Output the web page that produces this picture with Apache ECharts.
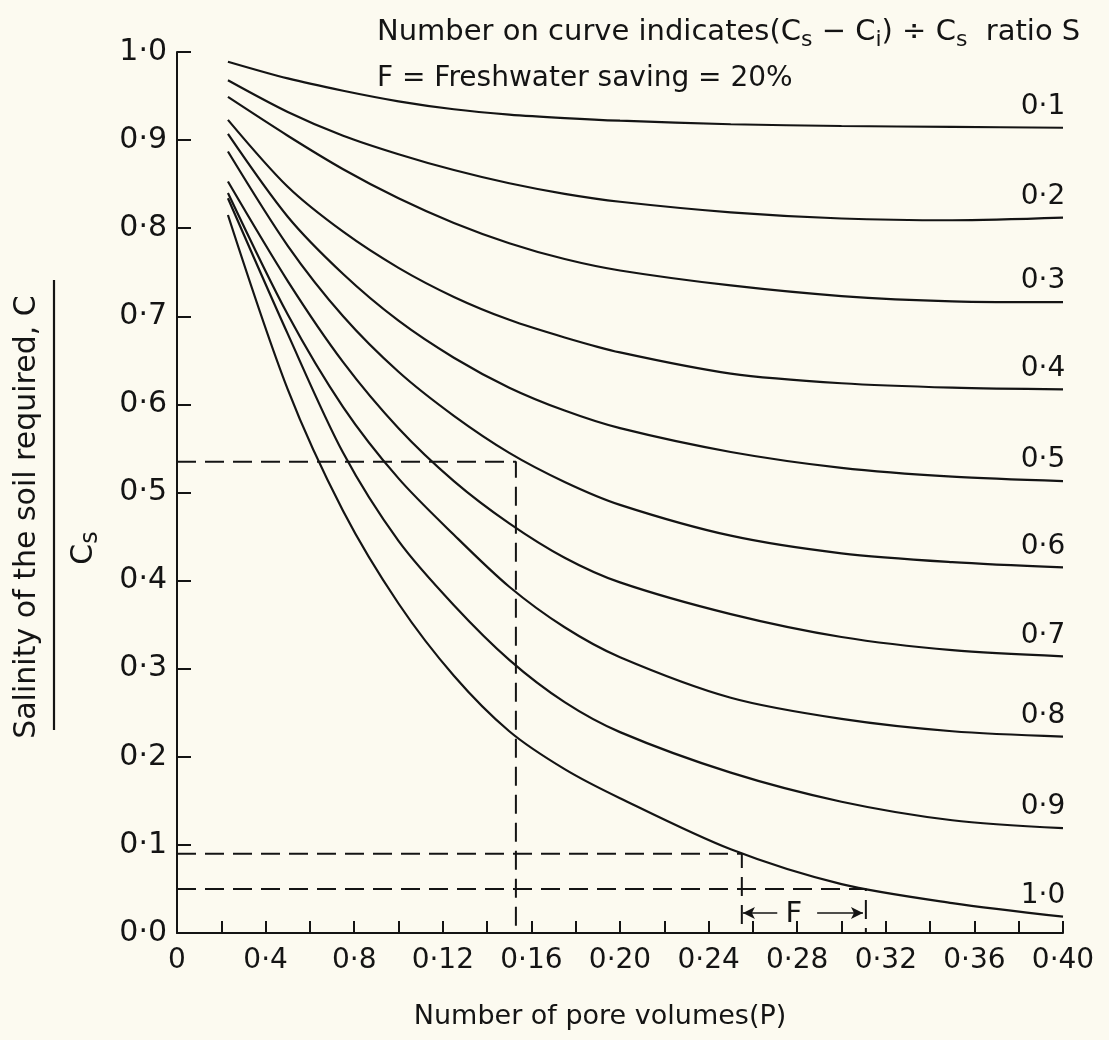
<!DOCTYPE html>
<html><head><meta charset="utf-8">
<script src="https://cdn.jsdelivr.net/npm/echarts@6/dist/echarts.min.js"></script>
<style>html,body{margin:0;padding:0;background:#fcfaf0}#c{width:1109px;height:1040px}</style>
</head><body><div id="c"></div>
<script>
// Number of pore volumes (P)
const poreVolumes = [0.023, 0.05, 0.075, 0.10, 0.125, 0.15, 0.175, 0.20, 0.25, 0.30, 0.35, 0.40];
// Curve ratio labels S
const curveRatios = ['0·1','0·2','0·3','0·4','0·5','0·6','0·7','0·8','0·9','1·0'];
// Salinity C/Cs for each curve
const s01 = [0.989, 0.970, 0.956, 0.944, 0.935, 0.929, 0.925, 0.922, 0.918, 0.916, 0.915, 0.914];
const s02 = [0.968, 0.932, 0.905, 0.884, 0.866, 0.851, 0.839, 0.830, 0.818, 0.811, 0.809, 0.812];
const s03 = [0.949, 0.905, 0.867, 0.834, 0.806, 0.783, 0.765, 0.752, 0.735, 0.723, 0.717, 0.716];
const s04 = [0.923, 0.847, 0.796, 0.755, 0.722, 0.696, 0.676, 0.659, 0.635, 0.624, 0.619, 0.617];
const s05 = [0.907, 0.813, 0.748, 0.695, 0.653, 0.619, 0.593, 0.573, 0.546, 0.528, 0.518, 0.513];
const s06 = [0.887, 0.780, 0.700, 0.637, 0.587, 0.545, 0.512, 0.486, 0.451, 0.431, 0.421, 0.415];
const s07 = [0.853, 0.740, 0.648, 0.573, 0.513, 0.465, 0.426, 0.398, 0.362, 0.336, 0.321, 0.314];
const s08 = [0.840, 0.702, 0.597, 0.516, 0.452, 0.393, 0.347, 0.313, 0.267, 0.243, 0.229, 0.223];
const s09 = [0.834, 0.680, 0.545, 0.445, 0.372, 0.310, 0.262, 0.228, 0.182, 0.149, 0.128, 0.119];
const s10 = [0.815, 0.617, 0.479, 0.374, 0.292, 0.229, 0.186, 0.153, 0.095, 0.0555, 0.034, 0.0185];
const curves = [s01, s02, s03, s04, s05, s06, s07, s08, s09, s10];

// Tick labels
const xTickLabels = ['0','0·4','0·8','0·12','0·16','0·20','0·24','0·28','0·32','0·36','0·40'];
const yTickLabels = ['0·0','0·1','0·2','0·3','0·4','0·5','0·6','0·7','0·8','0·9','1·0'];

// Dashed construction lines [P, C/Cs]
const guideA = [[0, 0.535], [0.153, 0.535], [0.153, 0]];
const guideB = [[0, 0.09], [0.255, 0.09], [0.255, 0]];
const guideC = [[0, 0.05], [0.311, 0.05], [0.311, 0]];
// Freshwater saving arrow "F"
const fArrowLeft = [[0.271, 0.0227], [0.2555, 0.0227]];
const fArrowRight = [[0.289, 0.0227], [0.3097, 0.0227]];
const fLabel = [0.2785, 0.0215];

const INK = '#141414';
const FONT = 'DejaVu Sans';
const chart = echarts.init(document.getElementById('c'), null, {renderer: 'canvas'});

const series = curves.map((vals, i) => ({
  type: 'line',
  name: curveRatios[i],
  data: poreVolumes.map((p, j) => [p, vals[j]]),
  smooth: 0.3,
  showSymbol: false,
  symbol: 'none',
  lineStyle: {color: INK, width: 2.2},
  endLabel: {
    show: true,
    formatter: curveRatios[i],
    color: INK,
    fontFamily: FONT,
    fontSize: 28,
    align: 'center',
    verticalAlign: 'middle',
    offset: [-28, -21]
  },
  silent: true,
  z: 3
}));

[guideA, guideB, guideC].forEach(g => series.push({
  type: 'line',
  data: g,
  symbol: 'none',
  lineStyle: {color: INK, width: 2, type: [19, 9]},
  silent: true,
  z: 2
}));

series.push({
  type: 'line',
  data: [],
  symbol: 'none',
  silent: true,
  markLine: {
    silent: true,
    symbol: ['none', 'arrow'],
    symbolSize: [9, 12],
    label: {show: false},
    lineStyle: {color: INK, width: 1.6, type: 'solid'},
    data: [
      [{coord: fArrowLeft[0]}, {coord: fArrowLeft[1]}],
      [{coord: fArrowRight[0]}, {coord: fArrowRight[1]}]
    ]
  },
  markPoint: {
    silent: true,
    symbol: 'circle',
    symbolSize: 0,
    itemStyle: {color: INK},
    label: {show: true, position: 'inside', formatter: 'F', color: INK, fontFamily: FONT, fontSize: 29},
    data: [{coord: fLabel}]
  }
});

chart.setOption({
  backgroundColor: '#fcfaf0',
  animation: false,
  textStyle: {fontFamily: FONT, color: INK},
  title: [
    {
      left: 372, top: 8,
      text: '{a|Number on curve indicates(C}{s|s}{a| − C}{s|i}{a|) ÷ C}{s|s}{a|  ratio S}',
      textStyle: {
        fontWeight: 'normal',
        rich: {
          a: {fontFamily: FONT, fontSize: 29, fontWeight: 'normal', color: INK, lineHeight: 38},
          s: {fontFamily: FONT, fontSize: 22, fontWeight: 'normal', color: INK, lineHeight: 38, padding: [16, 0, 0, 0]}
        }
      }
    },
    {
      left: 372, top: 60,
      text: 'F = Freshwater saving = 20%',
      textStyle: {fontFamily: FONT, fontSize: 28, color: INK, fontWeight: 'normal'}
    }
  ],
  grid: {left: 177, right: 46, top: 52, bottom: 107, containLabel: false},
  xAxis: {
    type: 'value', min: 0, max: 0.40, interval: 0.02,
    name: 'Number of pore volumes(P)',
    nameLocation: 'middle', nameGap: 70,
    nameTextStyle: {fontFamily: FONT, fontSize: 27, color: INK, padding: [0, 40, 0, 0]},
    axisLine: {show: true, lineStyle: {color: INK, width: 2}},
    axisTick: {show: true, inside: true, length: 12, lineStyle: {color: INK, width: 2}},
    axisLabel: {
      fontFamily: FONT, fontSize: 28, color: INK, margin: 14,
      formatter: v => {
        const k = Math.round(v / 0.02);
        return k % 2 ? '' : xTickLabels[k / 2];
      }
    },
    splitLine: {show: false}
  },
  yAxis: {
    type: 'value', min: 0, max: 1, interval: 0.1,
    axisLine: {show: true, lineStyle: {color: INK, width: 2}},
    axisTick: {show: true, inside: true, length: 14, lineStyle: {color: INK, width: 2}},
    axisLabel: {
      fontFamily: FONT, fontSize: 30, color: INK, margin: 10,
      formatter: v => yTickLabels[Math.round(v * 10)]
    },
    splitLine: {show: false}
  },
  graphic: [
    {type: 'text', x: 27, y: 517, rotation: Math.PI / 2,
     style: {text: 'Salinity of the soil required, C', fontFamily: FONT, fontSize: 30, fill: INK, align: 'center', verticalAlign: 'middle'}},
    {type: 'line', shape: {x1: 54, y1: 280, x2: 54, y2: 730}, style: {stroke: INK, lineWidth: 2.2}},
    {type: 'text', x: 84, y: 548, rotation: Math.PI / 2,
     style: {text: '{c|C}{s|s}', align: 'center', verticalAlign: 'middle',
       rich: {c: {fontFamily: FONT, fontSize: 30, fill: INK, color: INK}, s: {fontFamily: FONT, fontSize: 24, fill: INK, color: INK, padding: [14, 0, 0, 0]}}}}
  ],
  series: series
});
</script></body></html>
